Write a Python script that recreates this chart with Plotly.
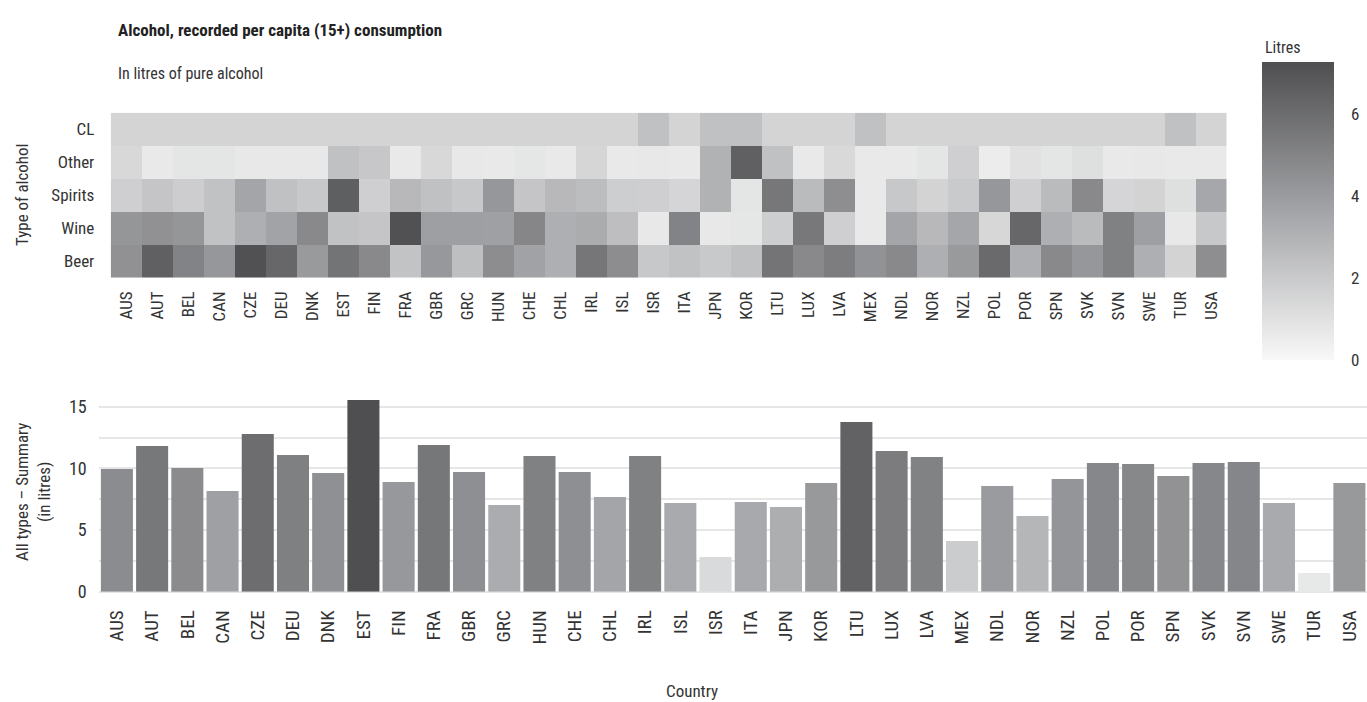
import plotly.graph_objects as go

countries = ["AUS","AUT","BEL","CAN","CZE","DEU","DNK","EST","FIN","FRA","GBR","GRC",
             "HUN","CHE","CHL","IRL","ISL","ISR","ITA","JPN","KOR","LTU","LUX","LVA",
             "MEX","NDL","NOR","NZL","POL","POR","SPN","SVK","SVN","SWE","TUR","USA"]
types = ["Beer", "Wine", "Spirits", "Other", "CL"]

cl = [1.55,1.55,1.55,1.55,1.55,1.55,1.55,1.55,1.55,1.55,1.55,1.55,
      1.55,1.55,1.55,1.55,1.55,2.4,1.55,2.4,2.4,1.55,1.55,1.55,
      2.4,1.55,1.55,1.55,1.55,1.55,1.55,1.55,1.55,1.55,2.4,1.55]
other = [1.37,0.66,0.84,0.84,0.7,0.7,0.7,2.4,2.1,0.66,1.37,0.7,
         0.66,0.8,0.66,1.46,0.66,0.7,0.66,3.05,6.55,2.4,0.66,1.33,
         0.66,0.66,0.84,1.77,0.53,1.0,0.84,1.1,0.66,0.7,0.66,0.66]
spirits = [1.77,2.2,1.86,2.35,3.6,2.4,2.08,6.6,1.77,2.75,2.4,2.08,
           4.2,2.2,2.75,2.57,1.82,1.77,1.5,3.05,0.84,5.54,2.66,4.56,
           0.66,2.08,1.6,2.0,4.2,1.77,2.66,4.78,1.5,1.6,1.1,3.5]
wine = [4.25,4.43,4.25,2.35,3.15,3.68,4.78,2.35,2.2,7.2,3.85,3.85,
        3.8,4.9,3.15,3.3,2.5,0.7,5.05,0.7,0.8,1.82,5.5,1.77,
        0.66,3.6,2.75,3.55,1.42,6.25,3.15,2.66,5.14,3.85,0.7,2.08]
beer = [4.43,6.55,5.05,4.2,7.2,6.25,4.08,5.7,4.78,2.3,4.16,2.48,
        4.6,3.72,3.15,5.6,4.6,2.08,2.35,2.04,2.4,5.67,4.78,5.3,
        4.4,4.78,3.15,4.08,6.1,3.15,4.78,4.2,5.14,3.15,1.6,4.56]
total = [9.95,11.81,10.03,8.16,12.78,11.08,9.62,15.54,8.89,11.89,9.70,7.03,
         11.0,9.70,7.68,11.0,7.19,2.81,7.27,6.86,8.81,13.76,11.41,10.92,
         4.11,8.57,6.14,9.14,10.43,10.35,9.38,10.43,10.51,7.19,1.51,8.81]

W, H = 1367, 702
FONT = "Liberation Sans Narrow, Roboto Condensed, Arial Narrow, Liberation Sans, sans-serif"
TXT = "#333333"
scale = [[0, "#f8f8f8"], [0.5, "#a3a4a7"], [1, "#4f4f51"]]

def px(x):
    return x / W

def py(y):
    return 1 - y / H

fig = go.Figure()

fig.add_trace(go.Heatmap(
    x=countries, y=types, z=[beer, wine, spirits, other, cl],
    colorscale=scale, zmin=0, zmax=7.27, xgap=0, ygap=0,
    xaxis="x", yaxis="y",
    colorbar=dict(
        x=px(1262), xanchor="left", xpad=0, ypad=0,
        y=py(211), yanchor="middle", len=298 / H, lenmode="fraction",
        thickness=72, outlinewidth=0,
        tickvals=[0, 2, 4, 6], ticks="outside", ticklen=14, tickcolor="rgba(0,0,0,0)",
        tickfont=dict(family=FONT, size=17, color=TXT),
    ),
))

fig.add_trace(go.Bar(
    x=countries, y=total, xaxis="x2", yaxis="y2",
    marker=dict(color=total, colorscale=scale, cmin=0, cmax=max(total), line=dict(width=0)),
    showlegend=False,
))

fig.update_layout(
    width=W, height=H, autosize=False,
    margin=dict(l=0, r=0, t=0, b=0),
    plot_bgcolor="white", paper_bgcolor="white",
    font=dict(family=FONT, size=16, color=TXT),
    bargap=0.09,
    xaxis=dict(domain=[px(110.7), px(1226.7)], anchor="y", tickangle=-90,
               showgrid=False, zeroline=False, automargin=False,
               ticks="outside", ticklen=6, tickcolor="rgba(0,0,0,0)",
               tickfont=dict(family=FONT, size=17, color=TXT)),
    yaxis=dict(domain=[py(277.7), py(112.7)], anchor="x", showgrid=False, zeroline=False,
               automargin=False, ticks="outside", ticklen=12, tickcolor="rgba(0,0,0,0)",
               tickfont=dict(family=FONT, size=17, color=TXT)),
    xaxis2=dict(domain=[px(99.3), 1.0], anchor="y2", tickangle=-90,
                showgrid=False, zeroline=False, automargin=False,
                ticks="outside", ticklen=10, tickcolor="rgba(0,0,0,0)",
                tickfont=dict(family=FONT, size=19, color=TXT)),
    yaxis2=dict(domain=[py(591.7), py(390.7)], anchor="x2", range=[0, 16.3],
                dtick=5, tick0=0, showgrid=True, gridcolor="#e6e6e6", gridwidth=1.5,
                zeroline=True, zerolinecolor="#e6e6e6", zerolinewidth=1.5,
                minor=dict(dtick=2.5, tick0=0, showgrid=True, gridcolor="#e6e6e6", gridwidth=1.5),
                automargin=False, ticks="outside", ticklen=8, tickcolor="rgba(0,0,0,0)",
                tickfont=dict(family=FONT, size=18, color=TXT)),
    annotations=[
        dict(text="<b>Alcohol, recorded per capita (15+) consumption</b>", x=px(116), y=py(30),
             xref="paper", yref="paper", xanchor="left", yanchor="middle", showarrow=False,
             font=dict(family=FONT, size=17, color="#222222")),
        dict(text="In litres of pure alcohol", x=px(116), y=py(73),
             xref="paper", yref="paper", xanchor="left", yanchor="middle", showarrow=False,
             font=dict(family=FONT, size=16, color=TXT)),
        dict(text="Litres", x=px(1263), y=py(47),
             xref="paper", yref="paper", xanchor="left", yanchor="middle", showarrow=False,
             font=dict(family=FONT, size=16, color=TXT)),
        dict(text="Type of alcohol", x=px(22), y=py(195), textangle=-90,
             xref="paper", yref="paper", xanchor="center", yanchor="middle", showarrow=False,
             font=dict(family=FONT, size=17, color=TXT)),
        dict(text="All types \u2013 Summary<br>(in litres)", x=px(33), y=py(492), textangle=-90,
             xref="paper", yref="paper", xanchor="center", yanchor="middle", showarrow=False,
             font=dict(family=FONT, size=17, color=TXT)),
        dict(text="Country", x=px(692), y=py(691),
             xref="paper", yref="paper", xanchor="center", yanchor="middle", showarrow=False,
             font=dict(family=FONT, size=17, color=TXT)),
    ],
)

fig.write_html("out.html", config={"displayModeBar": False},
               post_script="document.body.style.margin='0';document.body.style.overflow='hidden';")
